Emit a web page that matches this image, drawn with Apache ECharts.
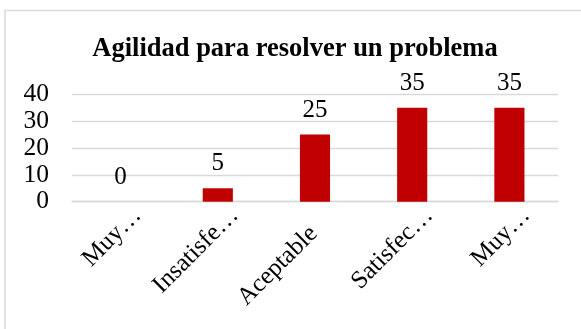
<!DOCTYPE html>
<html>
<head>
<meta charset="utf-8">
<script src="https://cdn.jsdelivr.net/npm/echarts@6/dist/echarts.min.js"></script>
<style>
  html, body { margin: 0; padding: 0; background: #ffffff; }
  #chart { width: 581px; height: 329px; }
</style>
</head>
<body>
<div id="chart"></div>
<script>
// Survey answers for "Agilidad para resolver un problema"
const categories = ['Muy insatisfecho', 'Insatisfecho', 'Aceptable', 'Satisfecho', 'Muy satisfecho'];
const tickLabels = ['Muy…', 'Insatisfe…', 'Aceptable', 'Satisfec…', 'Muy…'];
const values = [0, 5, 25, 35, 35];
const yTicks = [0, 10, 20, 30, 40];

const serif = '"Liberation Serif", "Times New Roman", serif';
const grey = '#d9d9d9';

const chart = echarts.init(document.getElementById('chart'), null, { renderer: 'canvas' });

// Truncated names sit further along the slant than full names
const axisData = categories.map((c, i) => {
  const truncated = tickLabels[i].endsWith('…');
  return {
    value: c,
    textStyle: { padding: truncated ? [0, 0, 0, 0] : [0, 26, 0, 0] }
  };
});

chart.setOption({
  animation: false,
  backgroundColor: '#ffffff',
  title: {
    text: 'Agilidad para resolver un problema',
    left: 290,
    textAlign: 'center',
    top: 31,
    textStyle: { fontFamily: serif, fontWeight: 'bold', fontSize: 26.5, color: '#000000' }
  },
  graphic: [{
    type: 'rect',
    shape: { x: 5, y: 10.5, width: 600, height: 330 },
    style: { fill: 'none', stroke: grey, lineWidth: 1.5 },
    silent: true
  }],
  grid: { left: 72, right: 23, top: 94.3, bottom: 127.3, containLabel: false },
  xAxis: {
    type: 'category',
    data: axisData,
    axisLine: { show: true, lineStyle: { color: grey, width: 1.3 } },
    axisTick: { show: false },
    axisLabel: {
      interval: 0,
      rotate: 45,
      margin: -7,
      lineHeight: 48,
      fontFamily: serif,
      fontSize: 25,
      color: '#000000',
      // empty first line pushes each name down the slant
      formatter: (v, i) => '\n' + tickLabels[i]
    }
  },
  yAxis: {
    type: 'value',
    min: yTicks[0],
    max: yTicks[yTicks.length - 1],
    interval: yTicks[1] - yTicks[0],
    axisLine: { show: false },
    axisTick: { show: false },
    splitLine: { lineStyle: { color: grey, width: 1.3 } },
    axisLabel: { margin: 23, fontFamily: serif, fontSize: 25.5, color: '#000000' }
  },
  series: [{
    type: 'bar',
    data: values,
    barWidth: '31%',
    itemStyle: { color: '#c00000' },
    label: {
      show: true,
      position: 'top',
      distance: 12,
      fontFamily: serif,
      fontSize: 25,
      color: '#000000'
    }
  }]
});
</script>
</body>
</html>
